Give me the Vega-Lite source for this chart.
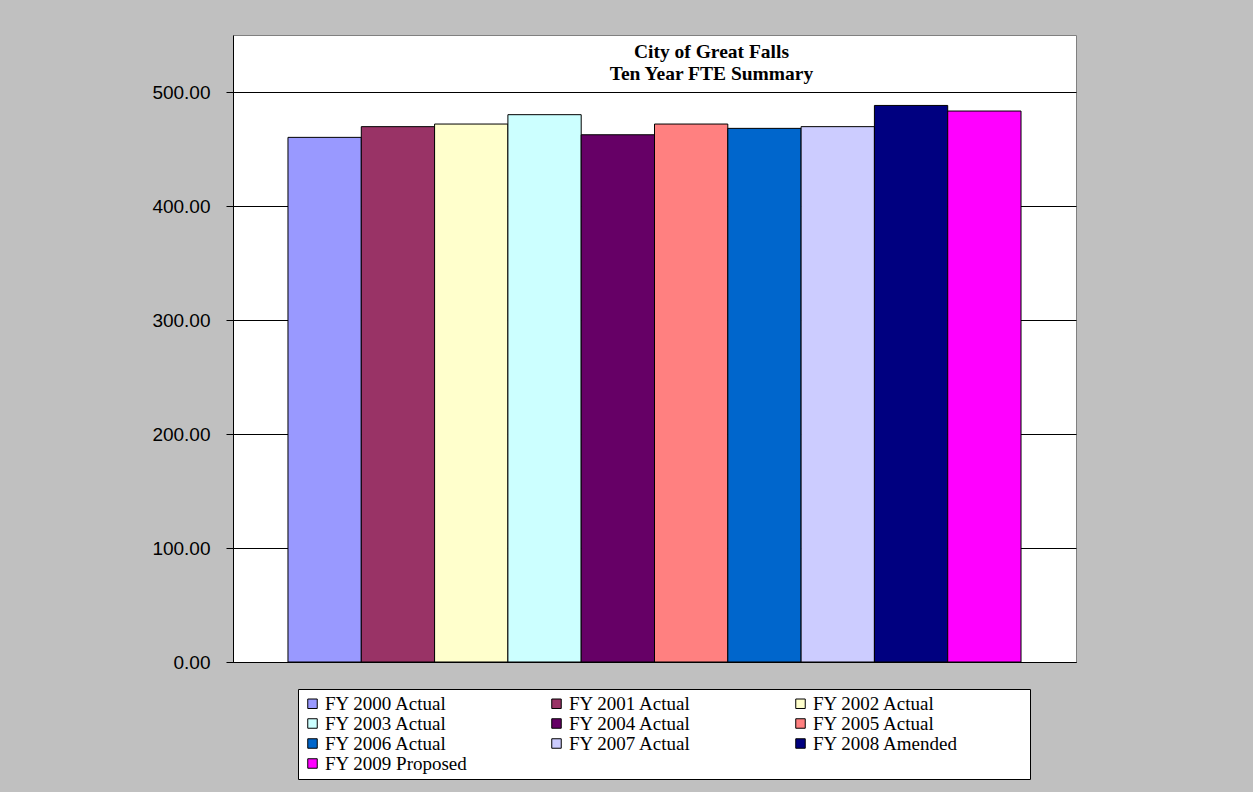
{
  "$schema": "https://vega.github.io/schema/vega-lite/v6.json",
  "autosize": {"type": "none"},
  "width": 843,
  "height": 627,
  "padding": {"left": 233, "top": 35, "right": 177, "bottom": 130},
  "background": "#c0c0c0",
  "title": {
    "text": ["City of Great Falls", "Ten Year FTE Summary"],
    "font": "Liberation Serif",
    "fontSize": 19.5,
    "fontWeight": "bold",
    "color": "black",
    "anchor": "middle",
    "baseline": "alphabetic",
    "lineHeight": 22,
    "dx": 57,
    "offset": -64
  },
  "data": {
    "values": [
      {"series": "FY 2000 Actual", "fte": 460.2},
      {"series": "FY 2001 Actual", "fte": 469.6},
      {"series": "FY 2002 Actual", "fte": 471.9},
      {"series": "FY 2003 Actual", "fte": 480.1},
      {"series": "FY 2004 Actual", "fte": 462.5},
      {"series": "FY 2005 Actual", "fte": 471.9},
      {"series": "FY 2006 Actual", "fte": 468.1},
      {"series": "FY 2007 Actual", "fte": 469.6},
      {"series": "FY 2008 Amended", "fte": 488.2},
      {"series": "FY 2009 Proposed", "fte": 483.3}
    ]
  },
  "mark": {"type": "bar", "stroke": "black", "strokeWidth": 1, "opacity": 1},
  "encoding": {
    "x": {
      "field": "series",
      "type": "nominal",
      "sort": null,
      "scale": {"paddingInner": 0, "paddingOuter": 0.75},
      "axis": {"labels": false, "ticks": false, "domain": true, "domainColor": "black", "title": null}
    },
    "y": {
      "field": "fte",
      "type": "quantitative",
      "scale": {"domain": [0, 550], "nice": false},
      "axis": {
        "title": null,
        "values": [0, 100, 200, 300, 400, 500],
        "format": ".2f",
        "labelFont": "Liberation Sans",
        "labelFontSize": 19,
        "labelColor": "black",
        "labelPadding": 16,
        "tickSize": 7,
        "tickColor": "black",
        "domainColor": "black",
        "grid": true,
        "gridColor": "black",
        "gridWidth": 1
      }
    },
    "fill": {
      "field": "series",
      "type": "nominal",
      "sort": null,
      "scale": {
        "range": ["#9999FF", "#993366", "#FFFFCC", "#CCFFFF", "#660066", "#FF8080", "#0066CC", "#CCCCFF", "#000080", "#FF00FF"]
      },
      "legend": {
        "orient": "none",
        "direction": "horizontal",
        "legendX": 65,
        "legendY": 654,
        "columns": 3,
        "gridAlign": "all",
        "columnPadding": 76,
        "rowPadding": 0,
        "symbolType": "square",
        "symbolSize": 90,
        "symbolStrokeColor": "black",
        "symbolStrokeWidth": 1,
        "symbolOpacity": 1,
        "labelFont": "Liberation Serif",
        "labelFontSize": 19,
        "labelColor": "black",
        "labelOffset": 3,
        "labelLimit": 0,
        "fillColor": "white",
        "strokeColor": "black",
        "padding": 5,
        "title": "\u00a0",
        "titleOrient": "right",
        "titlePadding": 66
      }
    }
  },
  "config": {
    "view": {"stroke": "#808080", "strokeWidth": 1, "fill": "white"}
  }
}
